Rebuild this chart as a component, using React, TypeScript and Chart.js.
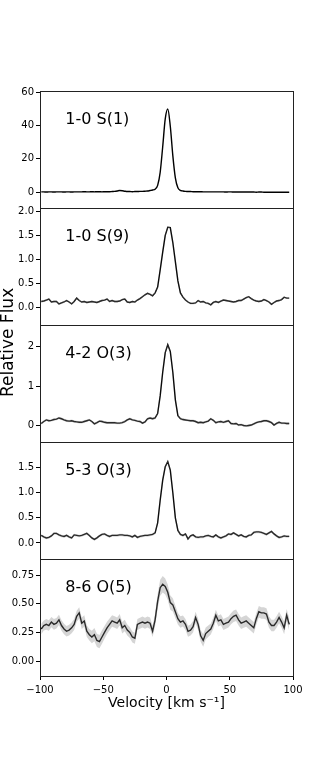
import React, { useEffect, useRef } from "react";
import { Chart, registerables } from "chart.js";

Chart.register(...registerables);

// Velocity grid (km/s)
const VELOCITY = [
  -99, -97, -95, -93, -91, -89, -87, -85, -83, -81,
  -79, -77, -75, -73, -71, -69, -67, -65, -63, -61,
  -59, -57, -55, -53, -51, -49, -47, -45, -43, -41,
  -39, -37, -35, -33, -31, -29, -27, -25, -23, -21,
  -19, -17, -15, -13, -11, -9, -7, -5, -3, -1,
  1, 3, 5, 7, 9, 11, 13, 15, 17, 19,
  21, 23, 25, 27, 29, 31, 33, 35, 37, 39,
  41, 43, 45, 47, 49, 51, 53, 55, 57, 59,
  61, 63, 65, 67, 69, 71, 73, 75, 77, 79,
  81, 83, 85, 87, 89, 91, 93, 95, 97,
];

const PANEL_LABELS = ["1-0 S(1)", "1-0 S(9)", "4-2 O(3)", "5-3 O(3)", "8-6 O(5)"];

const FLUX_10_S1 = [
  0.2, 0.2, 0.1, 0.2, 0.2, 0.1, 0.2, 0.2, 0.2, 0.1,
  0.2, 0.2, 0.1, 0.2, 0.2, 0.2, 0.2, 0.3, 0.2, 0.2,
  0.3, 0.2, 0.3, 0.3, 0.2, 0.3, 0.3, 0.3, 0.4, 0.5,
  0.7, 1.0, 0.9, 0.6, 0.4, 0.4, 0.3, 0.4, 0.4, 0.5,
  0.5, 0.6, 0.7, 1.0, 1.3, 1.8, 4.1, 11.9, 27.3, 44.0,
  50.0, 39.6, 22.0, 8.6, 2.6, 1.1, 0.7, 0.5, 0.4, 0.4,
  0.3, 0.3, 0.3, 0.3, 0.2, 0.2, 0.2, 0.2, 0.2, 0.2,
  0.2, 0.2, 0.2, 0.1, 0.2, 0.2, 0.1, 0.1, 0.1, 0.1,
  0.1, 0.1, 0.1, 0.1, 0.1, 0.0, 0.1, 0.1, 0.0, 0.0,
  0.0, 0.0, 0.0, 0.0, 0.0, 0.0, 0.0, 0.0, 0.0,
];

const FLUX_10_S9 = [
  0.12, 0.13, 0.15, 0.17, 0.11, 0.12, 0.12, 0.07, 0.09, 0.11,
  0.14, 0.11, 0.07, 0.12, 0.19, 0.14, 0.11, 0.12, 0.10, 0.11,
  0.12, 0.11, 0.10, 0.12, 0.14, 0.15, 0.17, 0.12, 0.14, 0.12,
  0.12, 0.13, 0.16, 0.17, 0.11, 0.10, 0.12, 0.11, 0.15, 0.18,
  0.22, 0.26, 0.29, 0.27, 0.24, 0.30, 0.42, 0.78, 1.15, 1.50,
  1.67, 1.66, 1.35, 0.95, 0.55, 0.30, 0.21, 0.15, 0.11, 0.08,
  0.08, 0.09, 0.14, 0.11, 0.12, 0.09, 0.08, 0.05, 0.10, 0.12,
  0.10, 0.13, 0.15, 0.14, 0.13, 0.12, 0.11, 0.12, 0.14, 0.14,
  0.17, 0.20, 0.22, 0.18, 0.15, 0.13, 0.12, 0.13, 0.16, 0.14,
  0.11, 0.06, 0.10, 0.13, 0.14, 0.16, 0.21, 0.19, 0.19,
];

const FLUX_42_O3 = [
  0.05, 0.10, 0.14, 0.12, 0.13, 0.15, 0.16, 0.19, 0.17, 0.14,
  0.12, 0.11, 0.12, 0.10, 0.09, 0.08, 0.08, 0.10, 0.12, 0.14,
  0.10, 0.04, 0.07, 0.11, 0.10, 0.08, 0.07, 0.07, 0.07, 0.07,
  0.06, 0.06, 0.07, 0.10, 0.14, 0.17, 0.14, 0.13, 0.11, 0.10,
  0.06, 0.09, 0.17, 0.19, 0.17, 0.19, 0.30, 0.75, 1.35, 1.85,
  2.05, 1.88, 1.35, 0.65, 0.25, 0.17, 0.15, 0.14, 0.13, 0.12,
  0.12, 0.10, 0.07, 0.08, 0.07, 0.09, 0.11, 0.17, 0.13, 0.07,
  0.09, 0.10, 0.08, 0.10, 0.12, 0.05, 0.04, 0.05, 0.01, 0.02,
  0.00, -0.01, 0.00, 0.01, 0.04, 0.07, 0.09, 0.10, 0.12, 0.12,
  0.10, 0.07, 0.01, 0.05, 0.08, 0.06, 0.06, 0.05, 0.05,
];

const FLUX_53_O3 = [
  0.15, 0.12, 0.10, 0.11, 0.14, 0.19, 0.19, 0.16, 0.14, 0.13,
  0.15, 0.12, 0.10, 0.16, 0.15, 0.14, 0.15, 0.17, 0.19, 0.15,
  0.10, 0.07, 0.10, 0.14, 0.17, 0.18, 0.15, 0.13, 0.15, 0.15,
  0.15, 0.16, 0.16, 0.15, 0.15, 0.14, 0.12, 0.15, 0.11, 0.13,
  0.14, 0.15, 0.15, 0.16, 0.17, 0.20, 0.40, 0.85, 1.25, 1.52,
  1.62, 1.45, 1.00, 0.50, 0.25, 0.17, 0.15, 0.18, 0.08, 0.14,
  0.16, 0.12, 0.11, 0.12, 0.12, 0.14, 0.15, 0.13, 0.12, 0.16,
  0.12, 0.10, 0.12, 0.14, 0.18, 0.17, 0.20, 0.17, 0.14, 0.16,
  0.13, 0.12, 0.15, 0.16, 0.21, 0.22, 0.22, 0.21, 0.19, 0.17,
  0.20, 0.23, 0.18, 0.14, 0.11, 0.12, 0.14, 0.13, 0.13,
];

const FLUX_86_O5 = [
  0.28, 0.31, 0.32, 0.31, 0.34, 0.32, 0.33, 0.36, 0.31, 0.28,
  0.26, 0.27, 0.29, 0.32, 0.39, 0.42, 0.33, 0.35, 0.26, 0.23,
  0.21, 0.23, 0.18, 0.17, 0.21, 0.25, 0.29, 0.32, 0.35, 0.34,
  0.33, 0.36, 0.29, 0.31, 0.27, 0.25, 0.21, 0.20, 0.32, 0.33,
  0.34, 0.33, 0.34, 0.33, 0.26, 0.36, 0.52, 0.64, 0.67, 0.65,
  0.60, 0.51, 0.49, 0.43, 0.37, 0.34, 0.35, 0.32, 0.26, 0.27,
  0.30, 0.38, 0.32, 0.22, 0.18, 0.24, 0.26, 0.28, 0.33, 0.40,
  0.35, 0.36, 0.32, 0.33, 0.34, 0.37, 0.39, 0.40, 0.36, 0.33,
  0.34, 0.35, 0.33, 0.31, 0.29, 0.37, 0.43, 0.42, 0.42, 0.41,
  0.34, 0.31, 0.31, 0.34, 0.38, 0.34, 0.29, 0.40, 0.32,
];

const ERR_86_O5 = [
  0.045, 0.044, 0.046, 0.045, 0.044, 0.046, 0.045, 0.045, 0.046, 0.045,
  0.046, 0.047, 0.047, 0.048, 0.048, 0.05, 0.05, 0.05, 0.05, 0.05,
  0.055, 0.058, 0.058, 0.058, 0.058, 0.056, 0.054, 0.052, 0.05, 0.05,
  0.05, 0.05, 0.05, 0.05, 0.048, 0.048, 0.048, 0.048, 0.048, 0.048,
  0.048, 0.048, 0.048, 0.05, 0.05, 0.055, 0.065, 0.07, 0.072, 0.07,
  0.068, 0.062, 0.058, 0.055, 0.05, 0.05, 0.048, 0.048, 0.048, 0.048,
  0.05, 0.05, 0.05, 0.052, 0.055, 0.052, 0.05, 0.048, 0.048, 0.048,
  0.048, 0.048, 0.048, 0.048, 0.048, 0.048, 0.05, 0.05, 0.05, 0.05,
  0.05, 0.05, 0.05, 0.05, 0.05, 0.05, 0.05, 0.05, 0.05, 0.05,
  0.05, 0.05, 0.05, 0.05, 0.05, 0.05, 0.055, 0.055, 0.055,
];

// typical 1-sigma noise for the brighter lines
const SIGMA_10_S9 = 0.02;
const SIGMA_42_O3 = 0.03;
const SIGMA_53_O3 = 0.025;

const FLUXES = [FLUX_10_S1, FLUX_10_S9, FLUX_42_O3, FLUX_53_O3, FLUX_86_O5];
const ERRORS = [
  null,
  VELOCITY.map(() => SIGMA_10_S9),
  VELOCITY.map(() => SIGMA_42_O3),
  VELOCITY.map(() => SIGMA_53_O3),
  ERR_86_O5,
];

const Y_MIN = [-9.5, -0.37, -0.42, -0.32, -0.13];
const Y_MAX = [60.8, 2.07, 2.55, 2.01, 0.89];
const Y_TICKS = [
  [0, 20, 40, 60],
  [0, 0.5, 1, 1.5, 2],
  [0, 1, 2],
  [0, 0.5, 1, 1.5],
  [0, 0.25, 0.5, 0.75],
];
const Y_DECIMALS = [0, 1, 0, 1, 2];
const X_TICKS = [-100, -50, 0, 50, 100];

const FONT = "'DejaVu Sans', 'Liberation Sans', sans-serif";
const W = 326;
const H = 761;

function fmtNum(v: number, d: number) {
  const s = Math.abs(v).toFixed(d);
  return v < 0 ? "\u2212" + s : s;
}

const panelPlugin = {
  id: "panelDecor",
  afterDraw(chart: any) {
    const ctx = chart.ctx;
    const ca = chart.chartArea;
    ctx.save();
    const L = Math.round(ca.left) + 0.5;
    const R = Math.round(ca.right) + 0.5;
    ctx.strokeStyle = "#222";
    ctx.lineWidth = 1;
    for (let k = 0; k < PANEL_LABELS.length; k++) {
      const s = chart.scales["y" + k];
      const t = Math.round(s.top) + 0.5;
      const b = Math.round(s.bottom) + 0.5;
      ctx.strokeRect(L, t, R - L, b - t);
      ctx.fillStyle = "#000";
      ctx.font = "16px " + FONT;
      ctx.textAlign = "left";
      ctx.textBaseline = "middle";
      ctx.fillText(
        PANEL_LABELS[k],
        ca.left + 0.1 * (ca.right - ca.left),
        s.top + 0.25 * (s.bottom - s.top)
      );
    }
    // shared y-axis title
    ctx.translate(9, chart.height * 0.45);
    ctx.rotate(-Math.PI / 2);
    ctx.font = "17px " + FONT;
    ctx.textAlign = "center";
    ctx.textBaseline = "middle";
    ctx.fillStyle = "#000";
    ctx.fillText("Relative Flux", 0, 0);
    ctx.restore();
  },
};

export default function App() {
  const ref = useRef<HTMLCanvasElement | null>(null);

  useEffect(() => {
    if (!ref.current) return;
    const datasets: any[] = [];
    FLUXES.forEach((flux, k) => {
      const err = ERRORS[k];
      const yAxisID = "y" + k;
      if (err) {
        datasets.push({
          data: VELOCITY.map((v, i) => ({ x: v, y: flux[i] - err[i] })),
          yAxisID,
          borderWidth: 0,
          pointRadius: 0,
          fill: false,
          borderColor: "rgba(0,0,0,0)",
        });
        datasets.push({
          data: VELOCITY.map((v, i) => ({ x: v, y: flux[i] + err[i] })),
          yAxisID,
          borderWidth: 0,
          pointRadius: 0,
          fill: "-1",
          borderColor: "rgba(0,0,0,0)",
          backgroundColor: "rgba(128,128,128,0.33)",
        });
      }
      datasets.push({
        data: VELOCITY.map((v, i) => ({ x: v, y: flux[i] })),
        yAxisID,
        borderColor: "#000",
        borderWidth: 1.4,
        pointRadius: 0,
        fill: false,
        cubicInterpolationMode: k === 0 ? "monotone" : "default",
        tension: 0,
      });
    });

    const tickFont = { family: FONT, size: 10 };
    const scales: any = {
      x: {
        type: "linear",
        position: "bottom",
        min: -100,
        max: 100,
        afterBuildTicks: (a: any) => {
          a.ticks = X_TICKS.map((v) => ({ value: v }));
        },
        ticks: {
          callback: (v: any) => fmtNum(Number(v), 0),
          font: tickFont,
          color: "#000",
          padding: 4,
          maxRotation: 0,
          autoSkip: false,
        },
        grid: { drawOnChartArea: false, tickLength: 4, color: "#000" },
        border: { display: false },
        title: {
          display: true,
          text: "Velocity [km s\u207B\u00B9]",
          font: { family: FONT, size: 14 },
          color: "#000",
          padding: { top: 0, bottom: 0 },
        },
        afterFit: (a: any) => {
          a.height = 36;
        },
      },
    };
    for (let k = PANEL_LABELS.length - 1; k >= 0; k--) {
      const ticks = Y_TICKS[k];
      const dec = Y_DECIMALS[k];
      scales["y" + k] = {
        type: "linear",
        position: "left",
        stack: "panels",
        stackWeight: 1,
        min: Y_MIN[k],
        max: Y_MAX[k],
        afterBuildTicks: (a: any) => {
          a.ticks = ticks.map((v) => ({ value: v }));
        },
        ticks: {
          callback: (v: any) => fmtNum(Number(v), dec),
          font: tickFont,
          color: "#000",
          padding: 2,
          autoSkip: false,
        },
        grid: { drawOnChartArea: false, tickLength: 4, color: "#000" },
        border: { display: false },
        afterFit: (a: any) => {
          a.width = 40;
        },
      };
    }

    const chart = new Chart(ref.current, {
      type: "line",
      data: { datasets },
      options: {
        responsive: false,
        animation: false,
        parsing: true,
        layout: { padding: { top: 91, left: 0, right: 33, bottom: 49 } },
        plugins: {
          legend: { display: false },
          tooltip: { enabled: false },
          title: { display: false },
        },
        scales,
      } as any,
      plugins: [panelPlugin],
    });
    return () => chart.destroy();
  }, []);

  return (
    <div
      style={{
        position: "absolute",
        left: 0,
        top: 0,
        width: W,
        height: H,
        background: "#fff",
      }}
    >
      <canvas ref={ref} width={W} height={H} style={{ display: "block" }} />
    </div>
  );
}
